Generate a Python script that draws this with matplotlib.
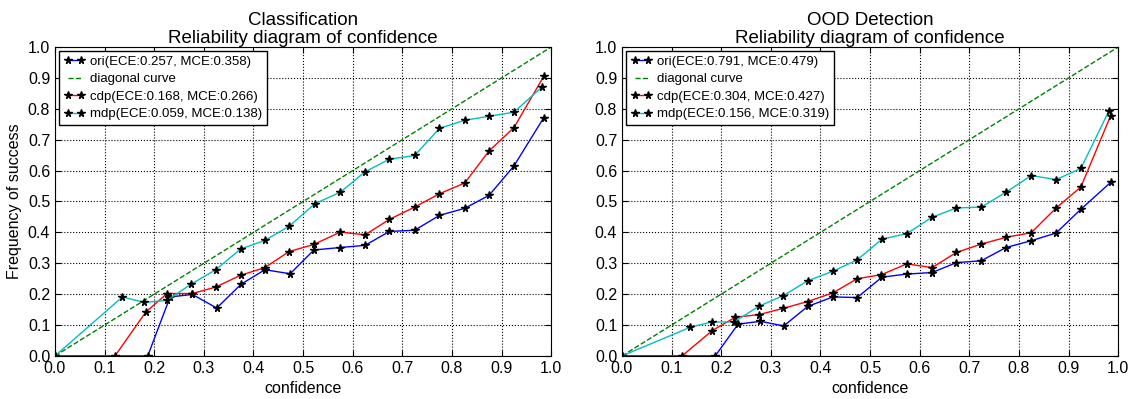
import matplotlib
matplotlib.use("Agg")
import matplotlib.pyplot as plt

# Classification panel
cls_ori_x = [0.0, 0.187, 0.232, 0.277, 0.326, 0.375, 0.423, 0.474, 0.522, 0.575, 0.625, 0.674, 0.725, 0.775, 0.826, 0.875, 0.925, 0.985]
cls_ori_y = [0.0, 0.0, 0.191, 0.199, 0.155, 0.232, 0.279, 0.266, 0.343, 0.351, 0.358, 0.403, 0.407, 0.455, 0.478, 0.520, 0.615, 0.771]
cls_cdp_x = [0.0, 0.121, 0.183, 0.226, 0.277, 0.324, 0.374, 0.423, 0.472, 0.522, 0.575, 0.625, 0.674, 0.725, 0.775, 0.826, 0.875, 0.925, 0.985]
cls_cdp_y = [0.0, 0.0, 0.142, 0.202, 0.202, 0.223, 0.261, 0.286, 0.338, 0.361, 0.401, 0.392, 0.442, 0.482, 0.525, 0.560, 0.664, 0.739, 0.905]
cls_mdp_x = [0.0, 0.136, 0.180, 0.226, 0.274, 0.324, 0.374, 0.423, 0.472, 0.524, 0.575, 0.625, 0.674, 0.725, 0.775, 0.826, 0.875, 0.925, 0.981]
cls_mdp_y = [0.0, 0.191, 0.173, 0.180, 0.232, 0.279, 0.346, 0.374, 0.420, 0.493, 0.530, 0.596, 0.637, 0.649, 0.737, 0.763, 0.776, 0.789, 0.870]
cls_labels = ["ori(ECE:0.257, MCE:0.358)", "diagonal curve",
              "cdp(ECE:0.168, MCE:0.266)", "mdp(ECE:0.059, MCE:0.138)"]

# OOD detection panel
ood_ori_x = [0.0, 0.188, 0.234, 0.279, 0.326, 0.374, 0.425, 0.474, 0.524, 0.574, 0.625, 0.674, 0.724, 0.774, 0.825, 0.875, 0.925, 0.985]
ood_ori_y = [0.0, 0.0, 0.103, 0.112, 0.097, 0.160, 0.191, 0.189, 0.255, 0.265, 0.270, 0.302, 0.308, 0.351, 0.373, 0.398, 0.475, 0.562]
ood_cdp_x = [0.0, 0.121, 0.182, 0.228, 0.277, 0.325, 0.374, 0.425, 0.474, 0.523, 0.574, 0.625, 0.674, 0.724, 0.774, 0.825, 0.875, 0.925, 0.985]
ood_cdp_y = [0.0, 0.0, 0.082, 0.125, 0.134, 0.154, 0.176, 0.204, 0.250, 0.263, 0.298, 0.286, 0.335, 0.362, 0.384, 0.399, 0.479, 0.547, 0.778]
ood_mdp_x = [0.0, 0.138, 0.181, 0.226, 0.276, 0.325, 0.374, 0.425, 0.474, 0.524, 0.574, 0.625, 0.674, 0.724, 0.774, 0.825, 0.875, 0.925, 0.981]
ood_mdp_y = [0.0, 0.093, 0.110, 0.110, 0.161, 0.195, 0.243, 0.274, 0.311, 0.378, 0.396, 0.449, 0.479, 0.482, 0.530, 0.584, 0.571, 0.607, 0.792]
ood_labels = ["ori(ECE:0.791, MCE:0.479)", "diagonal curve",
              "cdp(ECE:0.304, MCE:0.427)", "mdp(ECE:0.156, MCE:0.319)"]

diag = [0.0, 1.0]
ticks = [i / 10.0 for i in range(11)]

plt.rcParams['font.family'] = ['Liberation Sans', 'DejaVu Sans']


def reliabilityPlot(ax, title, ori, cdp, mdp, labels):
    mk = dict(marker='*', markersize=5.5, markerfacecolor='k', markeredgecolor='k', linewidth=1)
    ax.plot(ori[0], ori[1], color='b', label=labels[0], **mk)
    ax.plot(diag, diag, '--', color=(0, 0.5, 0), linewidth=1, label=labels[1])
    ax.plot(cdp[0], cdp[1], color='r', label=labels[2], **mk)
    ax.plot(mdp[0], mdp[1], color=(0, 0.75, 0.75), label=labels[3], **mk)
    ax.set_xlim(0, 1)
    ax.set_ylim(0, 1)
    ax.set_xticks(ticks)
    ax.set_yticks(ticks)
    ax.grid(True, linestyle=':', color='k', linewidth=0.8)
    ax.tick_params(direction='in', top=True, right=True, labelsize=11.5, length=4)
    ax.set_title(title, fontsize=13.5, linespacing=1.05, pad=3)
    ax.set_xlabel("confidence", fontsize=11.5)
    leg = ax.legend(loc='upper left', numpoints=2, fontsize=9.5, fancybox=False,
                    borderaxespad=0.3, handlelength=1.6, handletextpad=0.4,
                    labelspacing=0.4, borderpad=0.35, framealpha=1)
    leg.get_frame().set_edgecolor('k')
    for s in ax.spines.values():
        s.set_color('k')


fig = plt.figure(figsize=(11.34, 3.99), dpi=100)
ax1 = fig.add_axes([0.0485, 0.108, 0.4375, 0.774])
ax2 = fig.add_axes([0.5485, 0.108, 0.4375, 0.774])

reliabilityPlot(ax1, "Classification\nReliability diagram of confidence",
                (cls_ori_x, cls_ori_y), (cls_cdp_x, cls_cdp_y), (cls_mdp_x, cls_mdp_y), cls_labels)
ax1.set_ylabel("Frequency of success", fontsize=11.5)
reliabilityPlot(ax2, "OOD Detection\nReliability diagram of confidence",
                (ood_ori_x, ood_ori_y), (ood_cdp_x, ood_cdp_y), (ood_mdp_x, ood_mdp_y), ood_labels)

fig.savefig("out.png", dpi=100)
